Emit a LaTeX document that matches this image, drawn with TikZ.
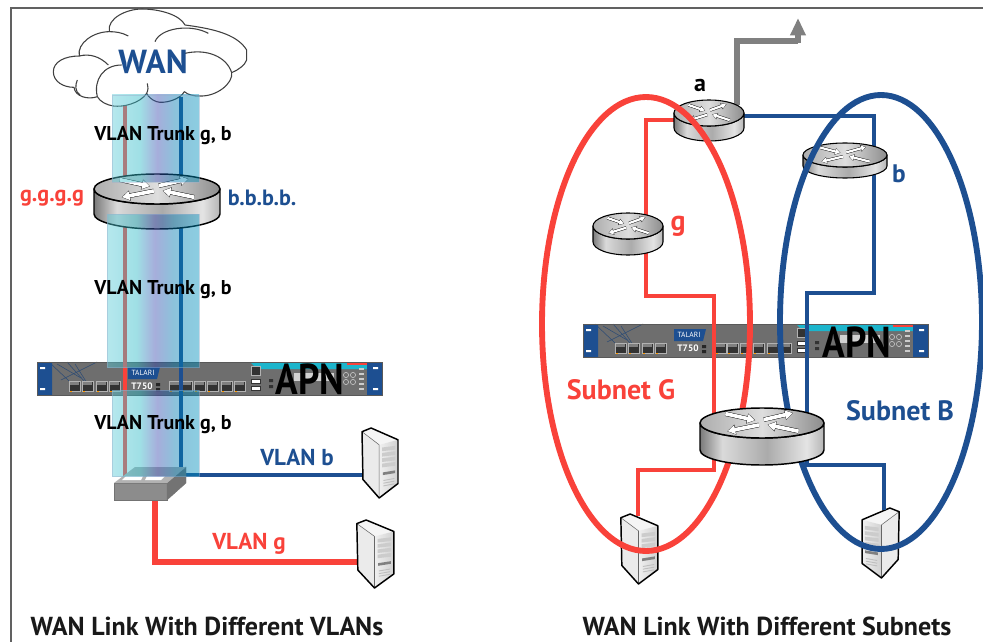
\documentclass[tikz,border=0pt]{standalone}
\usepackage{fontspec}
\setmainfont{PT Sans}
\usetikzlibrary{arrows.meta}
\definecolor{cred}{HTML}{F9423A}
\definecolor{cblue}{HTML}{1D4F91}
\definecolor{cgray}{HTML}{808080}
\definecolor{cteal}{HTML}{1CB5CC}
\definecolor{pa}{RGB}{93,204,217}
\definecolor{pb}{RGB}{44,186,199}
\definecolor{pc}{RGB}{59,75,177}
\definecolor{pd}{RGB}{0,122,177}
\definecolor{pe}{RGB}{0,146,190}
\definecolor{wa}{HTML}{7A7A7A}
\definecolor{wb}{HTML}{DADADA}
\definecolor{wc}{HTML}{ABABAB}
\definecolor{wd}{HTML}{E4E4E4}
\definecolor{we}{HTML}{B5B5B5}
\pgfdeclarehorizontalshading{trunk}{100bp}{color(0bp)=(pa);color(25bp)=(pa);color(41bp)=(pb);color(51bp)=(pc);color(61bp)=(pd);color(75bp)=(pe);color(100bp)=(pe)}
\pgfdeclarehorizontalshading{wall}{100bp}{color(0bp)=(wa);color(25bp)=(wa);color(34bp)=(wb);color(52bp)=(wc);color(68bp)=(wd);color(75bp)=(we);color(100bp)=(we)}
\tikzset{
  hit/.style={inner sep=0pt,outer sep=0pt},
  redwire/.style={draw=cred,line width=3.1pt},
  bluewire/.style={draw=cblue,line width=3.1pt},
  greywire/.style={draw=cgray,line width=3.8pt},
  panel/.style={shading=trunk,opacity=.45,draw=cblue!45,line width=.4pt},
  ring/.style={line width=4.4pt},
  lab/.style={font=\bfseries\fontsize{15}{15}\selectfont,inner sep=0pt},
  dots/.style={font=\bfseries\fontsize{16.6}{16.6}\selectfont,inner sep=0pt},
  sublab/.style={font=\bfseries\fontsize{21}{21}\selectfont,inner sep=0pt},
  vlab/.style={font=\bfseries\fontsize{17.3}{17.3}\selectfont,inner sep=0pt},
  title/.style={font=\bfseries\fontsize{19.5}{19.5}\selectfont,inner sep=0pt,anchor=base,text=black!90},
  apn/.style={font=\bfseries\fontsize{29.5}{29.5}\selectfont,inner sep=0pt,text=black},
}
% router: cx cy rx ry h outline-width arrow-width
\newcommand\routerdraw[7]{%
  \pgfmathsetmacro\hh{#5/#4}%
  \begin{scope}[shift={(#1,#2)},xscale=#3,yscale=#4,line join=round]
    \path[shading=wall,draw=black,line width=#6]
      (-1,0) -- (-1,\hh) .. controls (-1,\hh+.5523) and (-.5523,\hh+1) .. (0,\hh+1)
      .. controls (.5523,\hh+1) and (1,\hh+.5523) .. (1,\hh) -- (1,0)
      .. controls (1,.5523) and (.5523,1) .. (0,1)
      .. controls (-.5523,1) and (-1,.5523) .. (-1,0) -- cycle;
    \path[left color=black!32,right color=black!45,middle color=black!13,draw=black,line width=#6] (0,0) circle [radius=1];
    \foreach \xa/\ya/\xb/\yb in {-.59/-.62/-.11/-.18,.03/-.22/.5/-.67,-.05/.13/-.56/.55,.59/.55/.09/.11}{
      \draw[black,line width=#7+.6pt,-{Triangle[length=#7*2.0+.6pt,width=#7*2.3+.8pt]}] (\xa,\ya) -- (\xb,\yb);
      \draw[white,line width=#7,-{Triangle[length=#7*2.0,width=#7*2.3]},shorten >=.3pt] (\xa,\ya) -- (\xb,\yb);
    }
  \end{scope}}
% server: left top w h mirror(1/-1)
\newcommand\serverdraw[5]{%
  \begin{scope}[shift={(#1+#3/2,#2)},xscale={#5*#3/111},yscale={#4/208},line join=round]
   \begin{scope}[xshift=-55.5]
    \path[fill=black!8] (0,11) -- (53,50) -- (53,208) -- (3,153) -- cycle;
    \path[fill=black!4] (0,11) -- (28,0) -- (111,35) -- (53,50) -- cycle;
    \path[left color=black!6,right color=black!18] (53,50) -- (111,35) -- (111,165) -- (53,208) -- cycle;
    \foreach \yy in {58,74,90,106}{\path[fill=black!20] (62,\yy) -- (103,\yy-5) -- (103,\yy+6) -- (62,\yy+11) -- cycle;}
    \path[fill=black!50] (64,132) -- (102,126) -- (102,134) -- (64,140) -- cycle;
    \foreach \yy in {156,164,172}{\draw[black!25,line width=.7pt] (66,\yy) -- (100,\yy-6);}
    \draw[black!60,line width=.4pt] (0,11) -- (53,50) -- (53,208);
    \draw[black,line width=1.1pt] (0,11) -- (28,0) -- (111,35) -- (111,165) -- (53,208) -- (3,153) -- cycle;
   \end{scope}
  \end{scope}}
% rack device: left top
\newcommand\devicedraw[2]{%
  \begin{scope}[shift={(#1,#2)}]
    \path[fill=black!57,draw=black!70,line width=.4pt] (0,0) rectangle (345,33);
    \foreach \a/\b/\c/\d in {12/0/32/19,30/0/48/20,60/0/24/18,38/2/50/21,20/2/44/16}{\draw[cblue!70!black!90,line width=.4pt] (\a,\b) -- (\c,\d);}
    \foreach \x in {32,45,59,72,132,144,157,170,184,197}{
      \path[fill=black!80,draw=black!30,line width=.3pt] (\x,19) rectangle (\x+11,29);
      \path[fill=black!50] (\x+1,20) rectangle (\x+10,23);
      \path[fill=orange!80!yellow] (\x+1,29.3) rectangle (\x+3,30.3);
    }
    \path[fill=cblue] (91,5) -- (123,5) -- (120,17) -- (91,17) -- cycle;
    \node[hit,text=white,font=\fontsize{5.6}{5.6}\selectfont] at (106,10.5) {TALARI};
    \node[hit,text=white,font=\bfseries\fontsize{7}{7}\selectfont] at (105,24) {T750};
    \path[fill=black!85] (119,21) rectangle (123,24) (119,26) rectangle (123,29);
    \path[fill=cteal] (214,1) -- (330,1) -- (330,7) -- (220,7) -- cycle;
    \path[fill=cred] (310,1) rectangle (330,2.5);
    \path[fill=black!80,draw=black!30,line width=.3pt] (214,4) rectangle (223,13);
    \path[fill=white,draw=black!80,line width=.5pt] (214,17) rectangle (223,21) (214,24) rectangle (223,28);
    \path[fill=black!80] (232,17) rectangle (236,20) (232,23) rectangle (236,26);
    \path[fill=black!18] (257,11) rectangle (297,19);
    \foreach \x in {309,316}{\draw[black!25,line width=.5pt] (\x,13) circle [radius=2.6] (\x,20) circle [radius=2.6];}
    \foreach \yy in {6,11,16,21,26}{\path[fill=black!20] (322,\yy) rectangle (327,\yy+2);}
    \path[fill=cblue] (0,0) rectangle (15,33) (330,0) rectangle (345,33);
    \draw[black!65,line width=.4pt] (0,0) rectangle (345,33);
    \path[fill=white] (3,5) rectangle (8,7) (3,26) rectangle (8,28) (336,5) rectangle (341,7) (336,26) rectangle (341,28);
  \end{scope}}
\begin{document}
\begin{tikzpicture}[x=.75pt,y=-.75pt]
\useasboundingbox[fill=white] (0,0) rectangle (983,642);
\draw[black!62,line width=.9pt] (983,8) -- (11,8) -- (11,642);

% ---- named places
\node[hit,minimum width=52.5pt,minimum height=31pt] (ra) at (709,120) {};
\node[hit,minimum width=63pt,minimum height=26pt] (rb) at (845,160) {};
\node[hit,minimum width=52.5pt,minimum height=31pt] (rg) at (628,234) {};
\node[hit,minimum width=93pt,minimum height=40pt] (rr) at (762,435) {};
\node[hit,minimum width=94pt,minimum height=40pt] (rl) at (157,200) {};
\node[hit,minimum width=54pt,minimum height=25pt] (sw) at (150,483) {};
\node[hit,minimum width=27pt,minimum height=52pt] (s1) at (386,463) {};
\node[hit,minimum width=27pt,minimum height=51pt] (s2) at (382,554) {};
\node[hit,minimum width=27pt,minimum height=52pt] (s3) at (645,549) {};
\node[hit,minimum width=27pt,minimum height=52pt] (s4) at (875,543) {};
\coordinate (upr) at (125,100);
\coordinate (upb) at (181,97);
\coordinate (out) at (798,18);

% ---- left picture
\draw[bluewire] (upb) -- (181,475) -- (s1.west |- 181,475);
\draw[redwire,line width=3.8pt] (155,497) -- (155,562) -- (s2.west |- 155,562);
\devicedraw{37}{362}
\draw[redwire] (upr) -- (125,478);
\draw[bluewire] (upb) -- (181,475);
\serverdraw{368}{428}{36}{70}{1}
\serverdraw{363}{520}{37}{68}{1}
% cloud
\begin{scope}[x=.25pt,y=-.25pt]
 \path[fill=white,draw=black!75,line width=.8pt,line join=round]
  (160,215) .. controls (160,185) and (195,168) .. (238,168)
  .. controls (230,130) and (280,95) .. (328,95)
  .. controls (320,55) and (380,27) .. (425,27)
  .. controls (480,27) and (540,45) .. (555,75)
  .. controls (630,85) and (710,100) .. (740,150)
  -- (740,180) .. controls (735,195) and (715,210) .. (695,218)
  .. controls (700,250) and (650,290) .. (600,288)
  .. controls (580,288) and (565,285) .. (553,275)
  .. controls (540,300) and (490,312) .. (470,305)
  .. controls (455,300) and (445,290) .. (440,280)
  .. controls (420,310) and (370,322) .. (340,318)
  .. controls (320,315) and (300,305) .. (292,290)
  .. controls (265,300) and (225,290) .. (222,262)
  .. controls (190,262) and (160,245) .. (160,215) -- cycle;
 \draw[black!75,line width=.8pt]
  (292,290) .. controls (280,240) and (310,195) .. (365,195)
  (238,168) .. controls (270,160) and (300,170) .. (325,195)
  (465,125) .. controls (480,85) and (570,70) .. (625,100)
  (328,95) .. controls (345,95) and (365,97) .. (385,108)
  (555,160) .. controls (620,145) and (680,170) .. (695,218)
  (232,240) .. controls (225,255) and (225,275) .. (240,285)
  (440,280) .. controls (445,270) and (445,260) .. (442,250);
\end{scope}
\node[hit,text=cblue,font=\bfseries\fontsize{25}{25}\selectfont] (wan) at (153,62) {WAN};
\routerdraw{157}{189}{63}{15}{25}{1.1pt}{2.8pt}
% switch
\path[fill=black!45,draw=black!55,line width=.3pt] (114,483) rectangle (167,500);
\path[fill=black!55,draw=black!55,line width=.3pt] (167,483) -- (186,467) -- (186,483) -- (167,500) -- cycle;
\path[fill=black!30] (114,483) -- (135,467) -- (186,467) -- (167,483) -- cycle;
\path[fill=white] (122,480) -- (126,476) -- (143,476) -- (141,480) -- cycle (145,480) -- (147,476) -- (165,476) -- (161,480) -- cycle;
% trunk panels
\path[panel] (112,95) rectangle (199,182);
\path[panel] (107,214) rectangle (199,367);
\path[panel] (112,390) rectangle (199,476);

% ---- right picture
\serverdraw{627}{514}{37}{70}{1}
\serverdraw{856}{508}{37}{70}{-1}
\devicedraw{583}{324}
\draw[greywire] (737,105) -- (737,41) -- (798,41);
\draw[greywire,-{Triangle[length=13pt,width=11pt]}] (798,43) -- (out);
\draw[bluewire] ([yshift=3pt]ra.east) -- (874,116) -- (874,293) -- (807,293) -- (807,465) -- (884,465) -- (884,510);
\draw[redwire] (ra.west) -- (646,120) -- (646,296) -- (714,296) -- (714,470) -- (638,470) -- (638,516);
\routerdraw{709}{113}{35}{13}{15}{.8pt}{1.7pt}
\routerdraw{845}{155}{42}{12}{11}{.8pt}{1.7pt}
\routerdraw{628}{226}{35}{13}{16}{.8pt}{1.7pt}
\draw[cred,ring] (646,324) ellipse [x radius=104,y radius=227];
\draw[cblue,ring] (881,322) ellipse [x radius=101,y radius=227];
\routerdraw{762}{423}{62}{15}{27}{1.1pt}{2.8pt}

% ---- texts
\node[lab] (t1) at (163,136) {VLAN Trunk g, b};
\node[lab] (t2) at (163,290) {VLAN Trunk g, b};
\node[lab] (t3) at (163,425) {VLAN Trunk g, b};
\node[dots,text=cred] (gg) at (52,198) {g.g.g.g};
\node[dots,text=cblue] (bb) at (262,198) {b.b.b.b.};
\node[apn] (a1) at (310,379) {\scalebox{.95}[1.1]{APN}};
\node[apn] (a2) at (857,342) {\scalebox{.95}[1.1]{APN}};
\node[vlab,text=cblue] (vb) at (297,458) {VLAN b};
\node[vlab,text=cred] (vg) at (249,544) {VLAN g};
\node[sublab,text=cred] (sg) at (621,390) {Subnet G};
\node[sublab,text=cblue] (sb) at (900,411) {Subnet B};
\node[hit,font=\bfseries\fontsize{18}{18}\selectfont] (la) at (700,85) {a};
\node[hit,text=cblue,font=\bfseries\fontsize{19}{19}\selectfont] (lb) at (899,174) {b};
\node[hit,text=cred,font=\bfseries\fontsize{21}{21}\selectfont] (lg) at (678,226) {g};
\node[title] (tl) at (207,635) {WAN Link With Different VLANs};
\node[title] (tr) at (767,635) {WAN Link With Different Subnets};
\end{tikzpicture}
\end{document}
